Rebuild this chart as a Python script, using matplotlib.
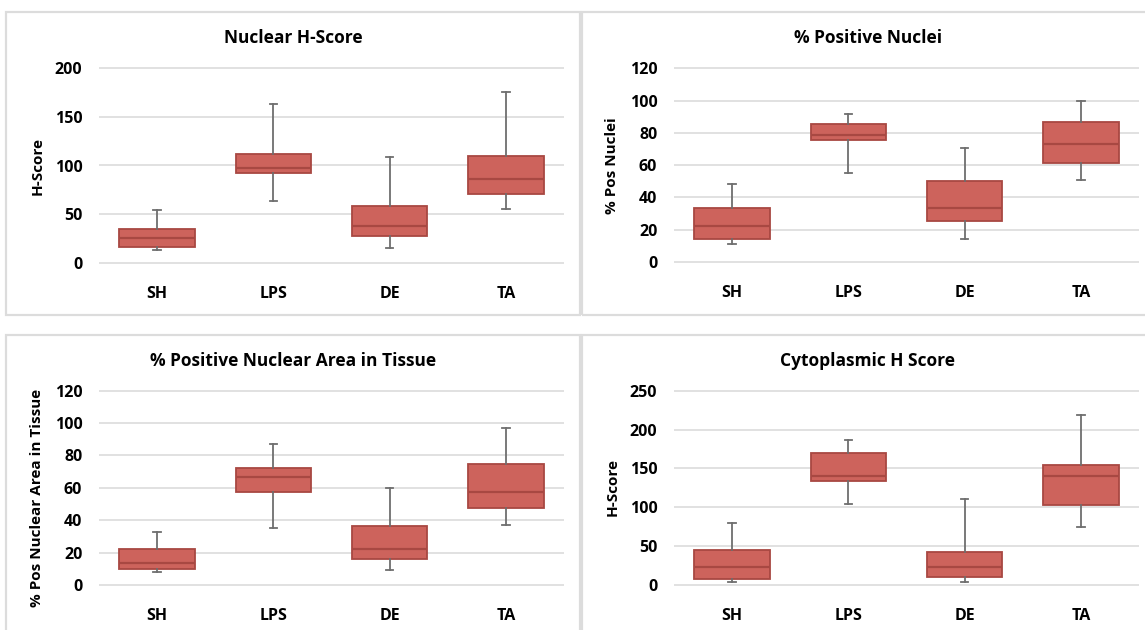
import matplotlib
matplotlib.use("Agg")
import matplotlib.pyplot as plt
from matplotlib.patches import Rectangle

# -----------------------------------------
# DATA
# -----------------------------------------
CATEGORIES = ["SH", "LPS", "DE", "TA"]

# Nuclear H-Score
NUC_H_LOW = [13, 63, 15, 55]
NUC_H_Q1 = [16, 92, 27, 71]
NUC_H_MED = [25, 97, 38, 86]
NUC_H_Q3 = [35, 112, 58, 110]
NUC_H_HIGH = [54, 163, 109, 176]

# % Positive Nuclei
POS_NUC_LOW = [11, 55, 14.5, 50.5]
POS_NUC_Q1 = [14.5, 75.5, 25.5, 61.5]
POS_NUC_MED = [22.5, 78.5, 33.5, 73]
POS_NUC_Q3 = [33.5, 85.5, 50, 86.5]
POS_NUC_HIGH = [48.5, 91.5, 70.5, 100]

# % Positive Nuclear Area in Tissue
AREA_LOW = [7.8, 35, 9, 37.3]
AREA_Q1 = [9.7, 57.2, 16, 47.6]
AREA_MED = [13.6, 67, 22.4, 57.4]
AREA_Q3 = [22.4, 72.5, 36.4, 74.5]
AREA_HIGH = [32.5, 87.3, 60, 97]

# Cytoplasmic H Score
CYTO_LOW = [4, 104.5, 4, 74]
CYTO_Q1 = [7.5, 134, 10.5, 103]
CYTO_MED = [23, 140, 23, 140]
CYTO_Q3 = [45.5, 170, 42.5, 154]
CYTO_HIGH = [80, 186, 111, 219]

# -----------------------------------------
# STYLE
# -----------------------------------------
W, H = 1145, 630
FONT = ["Open Sans", "DejaVu Sans"]
BOX_FILL = "#CD635C"
BOX_EDGE = "#A84842"
WHISKER = "#6E6E6E"
GRID = "#D9D9D9"
FRAME = "#DCDCDC"

plt.rcParams["font.family"] = FONT
plt.rcParams["font.weight"] = "bold"

fig = plt.figure(figsize=(W / 100, H / 100), dpi=100)
fig.patch.set_facecolor("white")


def add_frame(x0, y0, x1, y1):
    fig.add_artist(Rectangle((x0 / W, 1 - y1 / H), (x1 - x0) / W, (y1 - y0) / H,
                             transform=fig.transFigure, fill=False,
                             edgecolor=FRAME, linewidth=1.6))


def panel(left, right, zero_px, top_px, ymax, step, title, title_xy, ylabel, ylabel_y,
          low, q1, med, q3, high):
    # pad the y-range a little so the outer gridlines are not clipped
    pad = 4
    span = zero_px - top_px
    per_px = ymax / span
    ax = fig.add_axes([left / W, 1 - (zero_px + pad) / H,
                       (right - left) / W, (span + 2 * pad) / H])
    ax.set_ylim(-pad * per_px, ymax + pad * per_px)
    ax.set_xlim(-0.5, len(CATEGORIES) - 0.5)

    stats = []
    for i, name in enumerate(CATEGORIES):
        stats.append({"label": name, "whislo": low[i], "q1": q1[i], "med": med[i],
                      "q3": q3[i], "whishi": high[i]})

    ax.bxp(stats, positions=range(len(CATEGORIES)), widths=0.65, capwidths=0.065,
           patch_artist=True, showfliers=False,
           boxprops=dict(facecolor=BOX_FILL, edgecolor=BOX_EDGE, linewidth=1.3),
           medianprops=dict(color=BOX_EDGE, linewidth=1.6),
           whiskerprops=dict(color=WHISKER, linewidth=1.3),
           capprops=dict(color=WHISKER, linewidth=1.3))

    ax.set_yticks(range(0, ymax + 1, step))
    ax.yaxis.grid(True, color=GRID, linewidth=1.1)
    ax.set_axisbelow(True)
    for side in ax.spines.values():
        side.set_visible(False)
    ax.tick_params(axis="both", length=0, labelsize=11.5, colors="black")
    ax.tick_params(axis="y", pad=12)
    ax.tick_params(axis="x", pad=14)
    for lab in ax.get_xticklabels() + ax.get_yticklabels():
        lab.set_fontweight("bold")

    ax.set_ylabel(ylabel, fontsize=11, fontweight="bold")
    ax.yaxis.set_label_coords(-0.118, (zero_px + pad - ylabel_y) / (span + 2 * pad))

    fig.text(title_xy[0] / W, 1 - title_xy[1] / H, title, ha="center", va="center",
             fontsize=12.5, fontweight="bold")
    return ax


# -----------------------------------------
# PANEL FRAMES
# -----------------------------------------
add_frame(6, 12, 580, 315)
add_frame(582, 12, 1148, 315)
add_frame(6, 335, 580, 634)
add_frame(582, 335, 1148, 634)

# -----------------------------------------
# PANELS
# -----------------------------------------
panel(99, 564, 262.7, 68.3, 200, 50, "Nuclear H-Score", (293, 38),
      "H-Score", 166, NUC_H_LOW, NUC_H_Q1, NUC_H_MED, NUC_H_Q3, NUC_H_HIGH)

panel(674, 1139, 262, 68.3, 120, 20, "% Positive Nuclei", (868, 38),
      "% Pos Nuclei", 166, POS_NUC_LOW, POS_NUC_Q1, POS_NUC_MED, POS_NUC_Q3, POS_NUC_HIGH)

panel(99, 564, 585, 390.7, 120, 20, "% Positive Nuclear Area in Tissue", (293, 361),
      "% Pos Nuclear Area in Tissue", 498, AREA_LOW, AREA_Q1, AREA_MED, AREA_Q3, AREA_HIGH)

panel(674, 1139, 585, 390.7, 250, 50, "Cytoplasmic H Score", (868, 361),
      "H-Score", 487, CYTO_LOW, CYTO_Q1, CYTO_MED, CYTO_Q3, CYTO_HIGH)

fig.savefig("out.png", dpi=100)
